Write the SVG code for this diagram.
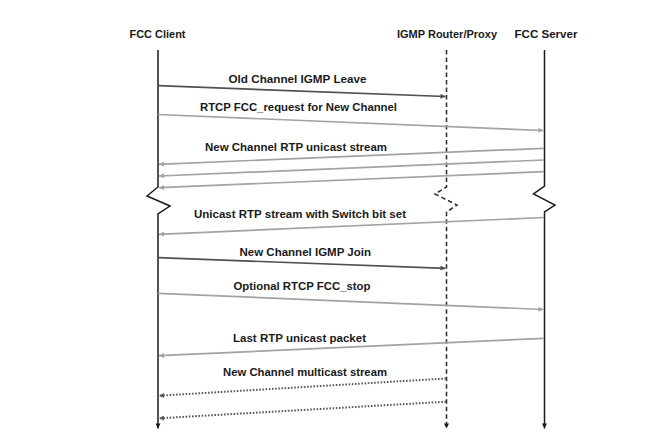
<svg xmlns="http://www.w3.org/2000/svg" width="672" height="444" viewBox="0 0 672 444">
<style>
text{font-family:"Liberation Sans",Arial,Helvetica,sans-serif;font-size:10.5px;font-weight:bold;fill:#1a1a1a}
.life{fill:none;stroke:#1a1a1a;stroke-width:1.5}
.dash{fill:none;stroke:#333;stroke-width:1.6;stroke-dasharray:4.5 3}
.dark{stroke:#505050;stroke-width:1.7;fill:none}
.light{stroke:#a3a3a3;stroke-width:1.7;fill:none}
.dot{stroke:#5a5a5a;stroke-width:2;stroke-dasharray:1.6 1.6;fill:none}
</style>
<defs>
<marker id="aL" viewBox="0 0 10 10" refX="10" refY="5" markerWidth="6" markerHeight="5" markerUnits="userSpaceOnUse" orient="auto"><path d="M0,0L10,5L0,10z" fill="#1a1a1a"/></marker>
<marker id="aD" viewBox="0 0 10 10" refX="10" refY="5" markerWidth="7" markerHeight="5" markerUnits="userSpaceOnUse" orient="auto"><path d="M0,0L10,5L0,10z" fill="#505050"/></marker>
<marker id="aG" viewBox="0 0 10 10" refX="10" refY="5" markerWidth="7" markerHeight="5" markerUnits="userSpaceOnUse" orient="auto"><path d="M0,0L10,5L0,10z" fill="#a3a3a3"/></marker>
<marker id="aT" viewBox="0 0 10 10" refX="10" refY="5" markerWidth="7" markerHeight="5" markerUnits="userSpaceOnUse" orient="auto"><path d="M0,0L10,5L0,10z" fill="#5a5a5a"/></marker>
</defs>
<rect width="672" height="444" fill="#fff"/>
<g id="fcc-client">
<text x="129.5" y="38" textLength="56" lengthAdjust="spacingAndGlyphs">FCC Client</text>
<path class="life" d="M158,50V187L147,196L170,206L158,214V428.5" marker-end="url(#aL)"/>
</g>
<g id="igmp-router">
<text x="397" y="38" textLength="100" lengthAdjust="spacingAndGlyphs">IGMP Router/Proxy</text>
<path class="dash" d="M446.5,50V187L435,194L457,205L446.5,212V428.5" marker-end="url(#aL)"/>
</g>
<g id="fcc-server">
<text x="514.5" y="38" textLength="63" lengthAdjust="spacingAndGlyphs">FCC Server</text>
<path class="life" d="M544.5,50V186L533.5,194L555,205L544.5,212V428.5" marker-end="url(#aL)"/>
</g>
<g id="connectors">
<line class="dark" x1="158" y1="85.7" x2="445.5" y2="96.5" marker-end="url(#aD)"/>
<text x="228.5" y="82.5" textLength="138" lengthAdjust="spacingAndGlyphs">Old Channel IGMP Leave</text>
<line class="light" x1="158" y1="114.5" x2="543.5" y2="130.5" marker-end="url(#aG)"/>
<text x="200" y="111" textLength="197" lengthAdjust="spacingAndGlyphs">RTCP FCC_request for New Channel</text>
<line class="light" x1="544" y1="148.3" x2="159" y2="164.3" marker-end="url(#aG)"/>
<line class="light" x1="544" y1="160" x2="159" y2="176" marker-end="url(#aG)"/>
<line class="light" x1="544" y1="171.7" x2="159" y2="187.7" marker-end="url(#aG)"/>
<text x="205" y="151" textLength="182" lengthAdjust="spacingAndGlyphs">New Channel RTP unicast stream</text>
<line class="light" x1="544" y1="217.5" x2="159" y2="234.3" marker-end="url(#aG)"/>
<text x="194" y="217.5" textLength="212" lengthAdjust="spacingAndGlyphs">Unicast RTP stream with Switch bit set</text>
<line class="dark" x1="158" y1="257.7" x2="445.5" y2="268.3" marker-end="url(#aD)"/>
<text x="239.5" y="255.5" textLength="131.5" lengthAdjust="spacingAndGlyphs">New Channel IGMP Join</text>
<line class="light" x1="158" y1="293.3" x2="543.5" y2="309.5" marker-end="url(#aG)"/>
<text x="233.5" y="289.5" textLength="137" lengthAdjust="spacingAndGlyphs">Optional RTCP FCC_stop</text>
<line class="light" x1="544" y1="338.3" x2="159" y2="355.7" marker-end="url(#aG)"/>
<text x="233" y="341.5" textLength="133" lengthAdjust="spacingAndGlyphs">Last RTP unicast packet</text>
<line class="dot" x1="446" y1="378.5" x2="159" y2="395.7" marker-end="url(#aT)"/>
<line class="dot" x1="446" y1="401.7" x2="159" y2="418.3" marker-end="url(#aT)"/>
<text x="223" y="376" textLength="164" lengthAdjust="spacingAndGlyphs">New Channel multicast stream</text>
</g>
</svg>
